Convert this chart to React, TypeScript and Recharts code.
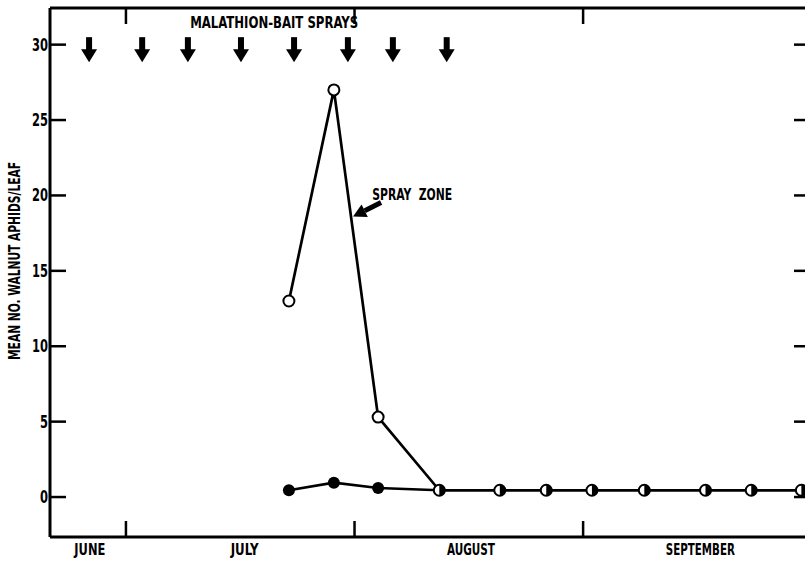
import React from "react";
import {
    ComposedChart,
    Line,
    Scatter,
    XAxis,
    YAxis,
    ReferenceDot,
} from "recharts";

// x values are days counted from June 1 (Jul 1 = 30, Aug 1 = 61, Sep 1 = 92)
const sampleDays = [52.1, 58.2, 64.2, 72.5, 80.7, 87.0, 93.2, 100.3, 108.6, 114.8, 121.6];
const sprayZone = [13.0, 27.0, 5.3, 0.45, 0.45, 0.45, 0.45, 0.45, 0.45, 0.45, 0.45];
const checkZone = [0.45, 0.95, 0.6, 0.45, 0.45, 0.45, 0.45, 0.45, 0.45, 0.45, 0.45];

const sprayDays = [25.0, 32.2, 38.4, 45.6, 52.8, 60.1, 66.2, 73.5];
const sprayArrowLevel = 29.7;

const monthStarts = [30, 61, 92];
const monthNames = ["JUNE", "JULY", "AUGUST", "SEPTEMBER"];
const monthMids = [25.1, 46.1, 76.8, 107.9];
const monthLabelWidths = [31, 28, 48, 69];

const yTicks = [0, 5, 10, 15, 20, 25, 30];

const xDomain = [19.7, 122.5];
const yDomain = [-2.65, 32.43];

const FONT = "'Liberation Sans Narrow', 'DejaVu Sans Condensed', 'Arial Narrow', sans-serif";

const rows = sampleDays.map((d, i) => ({ d, spray: sprayZone[i], check: checkZone[i] }));
const arrowRows = sprayDays.map((d) => ({ d, y: sprayArrowLevel }));

function BottomTick(props: any) {
    const { x, y, payload } = props;
    const v = payload.value;
    if (monthStarts.includes(v)) {
        return <line x1={x} y1={y} x2={x} y2={y - 16} stroke="#000" strokeWidth={2.5} />;
    }
    const idx = monthMids.indexOf(v);
    return (
        <text
            x={x - monthLabelWidths[idx] / 2}
            y={y + 18}
            textLength={monthLabelWidths[idx]}
            lengthAdjust="spacingAndGlyphs"
            fontFamily={FONT}
            fontWeight="bold"
            fontSize={15}
            fill="#000"
        >
            {monthNames[idx]}
        </text>
    );
}

function TopTick(props: any) {
    const { x, y } = props;
    return <line x1={x} y1={y} x2={x} y2={y + 16} stroke="#000" strokeWidth={2.5} />;
}

function LeftTick(props: any) {
    const { x, y, payload } = props;
    const label = String(payload.value);
    const w = label.length * 8;
    return (
        <g>
            <line x1={x} y1={y} x2={x + 16} y2={y} stroke="#000" strokeWidth={2.5} />
            <text
                x={x - 2 - w}
                y={y}
                dy={6}
                textLength={w}
                lengthAdjust="spacingAndGlyphs"
                fontFamily={FONT}
                fontWeight="bold"
                fontSize={17}
                fill="#000"
            >
                {label}
            </text>
        </g>
    );
}

function RightTick(props: any) {
    const { x, y } = props;
    return <line x1={x} y1={y} x2={x - 14} y2={y} stroke="#000" strokeWidth={2.5} />;
}

function halfDot(cx: number, cy: number, key: any) {
    const r = 5.5;
    return (
        <g key={key}>
            <circle cx={cx} cy={cy} r={r} fill="#fff" stroke="#000" strokeWidth={2} />
            <path d={`M${cx},${cy - r} A${r},${r} 0 0 1 ${cx},${cy + r} Z`} fill="#000" />
        </g>
    );
}

function SprayDot(props: any) {
    const { cx, cy, payload, index } = props;
    if (payload.spray === payload.check) return halfDot(cx, cy, "s" + index);
    return <circle key={"s" + index} cx={cx} cy={cy} r={5.5} fill="#fff" stroke="#000" strokeWidth={2} />;
}

function CheckDot(props: any) {
    const { cx, cy, payload, index } = props;
    if (payload.spray === payload.check) return <g key={"c" + index} />;
    return <circle key={"c" + index} cx={cx} cy={cy} r={6} fill="#000" />;
}

function DownArrow(props: any) {
    const { cx, cy } = props;
    return (
        <g>
            <rect x={cx - 3} y={cy - 12} width={6} height={13} fill="#000" />
            <polygon points={`${cx - 8},${cy} ${cx + 8},${cy} ${cx},${cy + 13}`} fill="#000" />
        </g>
    );
}

function PointerArrow(props: any) {
    const { cx, cy } = props;
    const tx = cx + 28;
    const ty = cy - 14;
    const len = Math.hypot(tx - cx, ty - cy);
    const ux = (tx - cx) / len;
    const uy = (ty - cy) / len;
    const bx = cx + ux * 13;
    const by = cy + uy * 13;
    const px = -uy;
    const py = ux;
    return (
        <g>
            <line x1={bx} y1={by} x2={tx} y2={ty} stroke="#000" strokeWidth={5} />
            <polygon
                points={`${cx},${cy} ${bx + px * 7},${by + py * 7} ${bx - px * 7},${by - py * 7}`}
                fill="#000"
            />
        </g>
    );
}

function YLabel(props: any) {
    const { viewBox } = props;
    const x = viewBox.x + 15;
    const y = 261;
    return (
        <text
            x={x - 99}
            y={y}
            transform={`rotate(-90, ${x}, ${y})`}
            textLength={198}
            lengthAdjust="spacingAndGlyphs"
            dominantBaseline="central"
            fontFamily={FONT}
            fontWeight="bold"
            fontSize={15}
            fill="#000"
        >
            MEAN NO. WALNUT APHIDS/LEAF
        </text>
    );
}

export default function App() {
    return (
        <div style={{ position: "absolute", left: 0, top: 0, width: 805, height: 561, overflow: "hidden", background: "#fff" }}>
            <ComposedChart width={812} height={561} data={rows} margin={{ top: 0, right: 0, bottom: 0, left: 0 }}>
                <XAxis
                    dataKey="d"
                    type="number"
                    domain={xDomain}
                    allowDataOverflow
                    ticks={[...monthStarts, ...monthMids]}
                    interval={0}
                    tick={<BottomTick />}
                    tickLine={false}
                    tickSize={0}
                    tickMargin={0}
                    height={24}
                    axisLine={{ stroke: "#000", strokeWidth: 3 }}
                />
                <XAxis
                    xAxisId="top"
                    orientation="top"
                    dataKey="d"
                    type="number"
                    domain={xDomain}
                    allowDataOverflow
                    ticks={monthStarts}
                    interval={0}
                    tick={<TopTick />}
                    tickLine={false}
                    tickSize={0}
                    tickMargin={0}
                    height={8}
                    axisLine={{ stroke: "#000", strokeWidth: 3 }}
                />
                <YAxis
                    type="number"
                    domain={yDomain}
                    allowDataOverflow
                    ticks={yTicks}
                    interval={0}
                    tick={<LeftTick />}
                    tickLine={false}
                    tickSize={0}
                    tickMargin={0}
                    width={50}
                    axisLine={{ stroke: "#000", strokeWidth: 3 }}
                    label={<YLabel />}
                />
                <YAxis
                    yAxisId="right"
                    orientation="right"
                    type="number"
                    domain={yDomain}
                    allowDataOverflow
                    ticks={yTicks}
                    interval={0}
                    tick={<RightTick />}
                    tickLine={false}
                    tickSize={0}
                    tickMargin={0}
                    width={4}
                    axisLine={{ stroke: "#000", strokeWidth: 3 }}
                />
                <Scatter data={arrowRows} dataKey="y" shape={<DownArrow />} isAnimationActive={false} />
                <Line
                    type="linear"
                    dataKey="check"
                    stroke="#000"
                    strokeWidth={2.7}
                    dot={CheckDot}
                    activeDot={false}
                    isAnimationActive={false}
                />
                <Line
                    type="linear"
                    dataKey="spray"
                    stroke="#000"
                    strokeWidth={2.7}
                    dot={SprayDot}
                    activeDot={false}
                    isAnimationActive={false}
                />
                <ReferenceDot
                    x={50.1}
                    y={31.5}
                    r={0}
                    shape={(p: any) => (
                        <text
                            x={p.cx - 84}
                            y={p.cy}
                            dy={6}
                            textLength={168}
                            lengthAdjust="spacingAndGlyphs"
                            fontFamily={FONT}
                            fontWeight="bold"
                            fontSize={15}
                            fill="#000"
                        >
                            MALATHION-BAIT SPRAYS
                        </text>
                    )}
                />
                <ReferenceDot
                    x={63.4}
                    y={20.1}
                    r={0}
                    shape={(p: any) => (
                        <text
                            x={p.cx}
                            y={p.cy}
                            dy={6}
                            textLength={80}
                            lengthAdjust="spacingAndGlyphs"
                            fontFamily={FONT}
                            fontWeight="bold"
                            fontSize={15}
                            fill="#000"
                            style={{ whiteSpace: "pre" }}
                        >
                            {"SPRAY  ZONE"}
                        </text>
                    )}
                />
                <ReferenceDot x={60.8} y={18.6} r={0} shape={<PointerArrow />} />
            </ComposedChart>
        </div>
    );
}
